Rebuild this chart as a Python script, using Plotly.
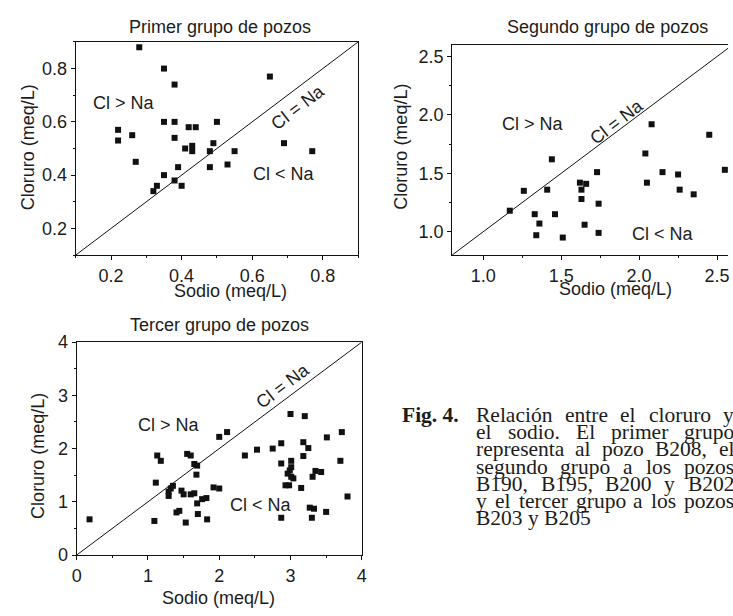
import plotly.graph_objects as go

W, H = 733, 616

# ---------------- data ----------------
g1_na = [0.28, 0.35, 0.38, 0.22, 0.22, 0.26, 0.27, 0.35, 0.38, 0.38, 0.42, 0.44, 0.50,
         0.41, 0.43, 0.43, 0.49, 0.48, 0.55, 0.39, 0.48, 0.53, 0.35, 0.38, 0.40, 0.33,
         0.32, 0.65, 0.69, 0.77]
g1_cl = [0.88, 0.80, 0.74, 0.57, 0.53, 0.55, 0.45, 0.60, 0.60, 0.54, 0.58, 0.58, 0.60,
         0.50, 0.51, 0.49, 0.52, 0.49, 0.49, 0.43, 0.43, 0.44, 0.40, 0.38, 0.36, 0.36,
         0.34, 0.77, 0.52, 0.49]

g2_na = [1.17, 1.26, 1.41, 1.44, 1.33, 1.36, 1.34, 1.46, 1.51, 1.62, 1.63, 1.66, 1.63,
         1.65, 1.73, 1.74, 1.74, 2.04, 2.05, 2.08, 2.15, 2.25, 2.26, 2.35, 2.45, 2.55]
g2_cl = [1.18, 1.35, 1.36, 1.62, 1.15, 1.07, 0.97, 1.15, 0.95, 1.42, 1.36, 1.41, 1.28,
         1.06, 1.51, 1.24, 0.99, 1.67, 1.42, 1.92, 1.51, 1.49, 1.36, 1.32, 1.83, 1.53]

g3_na = [0.18, 1.09, 1.11, 1.13, 1.18, 1.29, 1.29, 1.32, 1.35, 1.40, 1.44, 1.47, 1.50,
         1.53, 1.55, 1.60, 1.60, 1.65, 1.65, 1.69, 1.68, 1.69, 1.70, 1.76, 1.82, 1.83,
         1.92, 2.00, 2.00, 2.11, 2.36, 2.53, 2.75, 2.87, 2.87, 2.87, 3.00, 3.20, 3.72,
         3.51, 3.18, 3.25, 3.18, 3.01, 3.01, 2.99, 2.96, 3.01, 3.04, 2.93, 2.98, 3.15,
         3.31, 3.35, 3.43, 3.70, 3.80, 3.27, 3.33, 3.30, 3.50]
g3_cl = [0.67, 0.64, 1.36, 1.87, 1.77, 1.11, 1.19, 1.25, 1.30, 0.80, 0.83, 1.21, 1.14,
         0.61, 1.90, 1.87, 1.14, 1.71, 1.16, 1.68, 1.51, 0.97, 0.77, 1.05, 1.07, 0.67,
         1.27, 1.25, 2.22, 2.31, 1.87, 1.98, 2.00, 2.10, 1.72, 0.70, 2.65, 2.61, 2.31,
         2.21, 2.12, 2.01, 1.86, 1.77, 1.65, 1.59, 1.53, 1.47, 1.44, 1.31, 1.31, 1.26,
         1.47, 1.58, 1.56, 1.77, 1.10, 0.89, 0.87, 0.70, 0.81]

titles = ["Primer grupo de pozos", "Segundo grupo de pozos", "Tercer grupo de pozos"]
x_title = "Sodio (meq/L)"
y_title = "Cloruro (meq/L)"
caption_head = "Fig. 4."
caption_lines = [
    "Relación entre el cloruro y",
    "el sodio. El primer grupo",
    "representa al pozo B208, el",
    "segundo grupo a los pozos",
    "B190, B195, B200 y B202",
    "y el tercer grupo a los pozos",
    "B203 y B205",
]

# ---------------- helpers ----------------
def px(x):
    return x / W

def py(y):
    return 1 - y / H

SANS = "Liberation Sans, Arial, sans-serif"
SERIF = "Liberation Serif, Times New Roman, serif"
TXT = "#1c1c1c"
FS = 18

# Times metric widths (per 1000 em) used to justify the caption lines
TW = dict(a=444, b=500, c=444, d=500, e=444, f=333, g=500, h=500, i=278, j=278, k=500,
          l=278, m=778, n=500, o=500, p=500, q=500, r=333, s=389, t=278, u=500, v=500,
          w=722, x=500, y=500, z=444)
TW.update({"B": 667, "E": 611, "R": 667, "F": 556, ",": 250, ".": 250, "ó": 500, " ": 250})
for dch in "0123456789":
    TW[dch] = 500

def tw(word, size):
    return sum(TW.get(ch, 500) for ch in word) / 1000.0 * size

fig = go.Figure()

panels = [
    dict(x=g1_na, y=g1_cl, xd=(71.7, 358.0), yd=(33.0, 253.3), xr=[0.1, 0.9], yr=[0.1, 0.9],
         diag=(0.1, 0.9), dt=0.2, t0=0.2, mn=0.1, fmt=".1f"),
    dict(x=g2_na, y=g2_cl, xd=(453.3, 733.0), yd=(36.0, 253.3),
         xr=[0.8, 0.8 + (733.0 - 453.3) / 158.0], yr=[0.8, 2.6],
         diag=(0.8, 2.6), dt=0.5, t0=1.0, mn=0.25, fmt=".1f"),
    dict(x=g3_na, y=g3_cl, xd=(72.7, 361.7), yd=(343.3, 563.3), xr=[0, 4], yr=[0, 4],
         diag=(0, 4), dt=1, t0=0, mn=0.5, fmt="d"),
]

for i, p in enumerate(panels):
    n = "" if i == 0 else str(i + 1)
    xa, ya = "x" + n, "y" + n
    fig.add_trace(go.Scatter(x=list(p["diag"]), y=list(p["diag"]), mode="lines",
                             line=dict(color="#111", width=1), xaxis=xa, yaxis=ya,
                             showlegend=False, hoverinfo="skip"))
    fig.add_trace(go.Scatter(x=p["x"], y=p["y"], mode="markers",
                             marker=dict(symbol="square", size=6, color="#111",
                                         line=dict(width=0)),
                             xaxis=xa, yaxis=ya, showlegend=False, cliponaxis=False))
    common = dict(showgrid=False, zeroline=False, showline=True, linecolor="#111",
                  linewidth=1, ticks="outside", ticklen=4, tickwidth=1, tickcolor="#111",
                  tickfont=dict(family=SANS, size=FS, color=TXT),
                  tickformat=p["fmt"], dtick=p["dt"], tick0=p["t0"],
                  minor=dict(dtick=p["mn"], ticks="outside", ticklen=2, tickcolor="#111"))
    xaxis = dict(common, domain=[px(p["xd"][0]), px(p["xd"][1])], range=p["xr"],
                 anchor=ya, mirror=True)
    yaxis = dict(common, domain=[py(p["yd"][1]), py(p["yd"][0])], range=p["yr"],
                 anchor=xa, mirror=(i != 1))
    fig.update_layout(**{"xaxis" + n: xaxis, "yaxis" + n: yaxis})

ann = []
for t, (cx, cy) in zip(titles, [(217.5, 18), (611, 18), (217.5, 326)]):
    ann.append(dict(text=t, x=px(cx), y=py(cy), xref="paper", yref="paper",
                    showarrow=False, font=dict(family=SANS, size=FS, color=TXT),
                    xanchor="center", yanchor="middle"))
for (cx, cy) in [(229, 290), (619, 288), (216, 607.5)]:
    ann.append(dict(text=x_title, x=px(cx), y=py(cy), xref="paper", yref="paper",
                    showarrow=False, font=dict(family=SANS, size=FS, color=TXT),
                    xanchor="center", yanchor="middle"))
for (cx, cy) in [(23.3, 142), (401.7, 141), (33.3, 461)]:
    ann.append(dict(text=y_title, x=px(cx), y=py(cy), xref="paper", yref="paper",
                    showarrow=False, textangle=-90,
                    font=dict(family=SANS, size=FS, color=TXT),
                    xanchor="center", yanchor="middle"))
labels = [
    ("x", "y", 0.237, 0.67, 0.69, 0.405, 0.73, 0.656),
    ("x2", "y2", 1.32, 1.92, 2.15, 0.98, 1.855, 1.94),
    ("x3", "y3", 1.30, 2.44, 2.59, 0.94, 2.89, 3.18),
]
for xa, ya, gx, gy, lx, ly, ex, ey in labels:
    ann.append(dict(text="Cl > Na", x=gx, y=gy, xref=xa, yref=ya, showarrow=False,
                    font=dict(family=SANS, size=FS, color=TXT)))
    ann.append(dict(text="Cl < Na", x=lx, y=ly, xref=xa, yref=ya, showarrow=False,
                    font=dict(family=SANS, size=FS, color=TXT)))
    ann.append(dict(text="Cl = Na", x=ex, y=ey, xref=xa, yref=ya, showarrow=False,
                    textangle=-37.4, font=dict(family=SANS, size=FS, color=TXT)))

# caption (justified lines, last line left aligned)
CFS = 21.5
LEFT, RIGHT = 476.7, 738.0
Y0, DY = 418.5, 17.8
ann.append(dict(text="<b>" + caption_head + "</b>", x=px(401.7), y=py(Y0), xref="paper",
                yref="paper", showarrow=False, xanchor="left", yanchor="middle",
                borderpad=0, font=dict(family=SERIF, size=CFS, color=TXT)))
for k, line in enumerate(caption_lines):
    yy = py(Y0 + DY * k)
    words = line.split(" ")
    if k == len(caption_lines) - 1:
        ann.append(dict(text=line, x=px(LEFT), y=yy, xref="paper", yref="paper",
                        showarrow=False, xanchor="left", yanchor="middle", borderpad=0,
                        font=dict(family=SERIF, size=CFS, color=TXT)))
        continue
    widths = [tw(w_, CFS) for w_ in words]
    gap = (RIGHT - LEFT - sum(widths)) / (len(words) - 1)
    xcur = LEFT
    for w_, wd in zip(words, widths):
        ann.append(dict(text=w_, x=px(xcur), y=yy, xref="paper", yref="paper",
                        showarrow=False, xanchor="left", yanchor="middle",
                        borderpad=0, font=dict(family=SERIF, size=CFS, color=TXT)))
        xcur += wd + gap

fig.update_layout(width=W, height=H, margin=dict(l=0, r=0, t=0, b=0),
                  paper_bgcolor="white", plot_bgcolor="white", annotations=ann)

fig.write_html("out.html")
